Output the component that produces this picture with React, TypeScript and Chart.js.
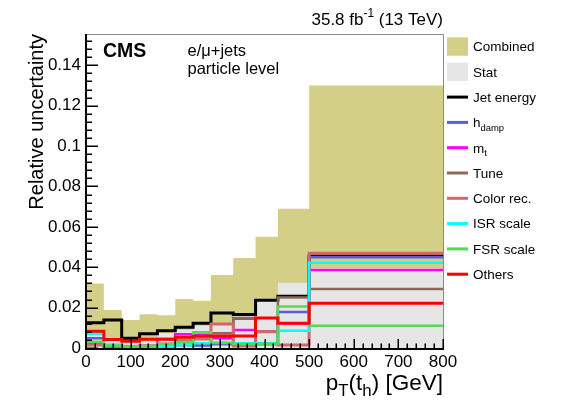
import React, { useEffect, useRef } from "react";
import { Chart, registerables } from "chart.js";
Chart.register(...registerables);

const FONT = '"Liberation Sans", Arial, Helvetica, sans-serif';

// Bin edges of pT(t_h) in GeV
const binEdges = [0, 40, 80, 120, 160, 200, 240, 280, 330, 380, 430, 500, 800];

// Relative uncertainties per bin
const combined = [0.032, 0.0188, 0.0139, 0.0167, 0.0162, 0.0243, 0.0234, 0.0361, 0.0446, 0.0551, 0.069, 0.13];
const stat = [0.0065, 0.0035, 0.003, 0.0035, 0.0075, 0.009, 0.011, 0.0115, 0.0158, 0.0234, 0.0323, 0.0395];
const jetEnergy = [0.0125, 0.0139, 0.0048, 0.0071, 0.0086, 0.0103, 0.0122, 0.0173, 0.0166, 0.0237, 0.0256, 0.0455];
const hdamp = [0.0048, 0.0015, 0.0005, 0.001, 0.001, 0.0015, 0.0012, 0.0018, 0.0145, 0.0018, 0.0178, 0.045];
const mt = [0.002, 0.001, 0.0003, 0.001, 0.0045, 0.0068, 0.0066, 0.0048, 0.0089, 0.0081, 0.0122, 0.0386];
const tune = [0.002, 0.0008, 0.0005, 0.0008, 0.001, 0.0015, 0.002, 0.0073, 0.0148, 0.0082, 0.025, 0.0292];
const colorRec = [0.0015, 0.001, 0.0008, 0.001, 0.002, 0.004, 0.0045, 0.0119, 0.001, 0.008, 0.0015, 0.0469];
const isrScale = [0.0069, 0.0015, 0.0005, 0.0008, 0.001, 0.0015, 0.0023, 0.0026, 0.0023, 0.0023, 0.0085, 0.0422];
const fsrScale = [0.0031, 0.0012, 0.0008, 0.001, 0.002, 0.003, 0.0078, 0.0025, 0.002, 0.0021, 0.0205, 0.011];
const others = [0.0083, 0.0042, 0.0033, 0.0043, 0.0043, 0.0053, 0.0058, 0.006, 0.006, 0.0148, 0.0123, 0.0221];

// Axis settings
const xMin = 0;
const xMax = 800;
const xMajorStep = 100;
const xMinorStep = 20;
const yMin = 0;
const yMax = 0.1555;
const yMajorStep = 0.02;
const yMinorStep = 0.004;

type Part = { t: string; sub?: boolean; sup?: boolean };

const legendItems: { key: string; parts: Part[]; color: string; kind: "box" | "line"; width: number }[] = [
  { key: "combined", parts: [{ t: "Combined" }], color: "#d4cf87", kind: "box", width: 0 },
  { key: "stat", parts: [{ t: "Stat" }], color: "#e6e6e6", kind: "box", width: 0 },
  { key: "jet", parts: [{ t: "Jet energy" }], color: "#000000", kind: "line", width: 3 },
  { key: "hdamp", parts: [{ t: "h" }, { t: "damp", sub: true }], color: "#5b5bdc", kind: "line", width: 2.5 },
  { key: "mt", parts: [{ t: "m" }, { t: "t", sub: true }], color: "#ff00ff", kind: "line", width: 2.5 },
  { key: "tune", parts: [{ t: "Tune" }], color: "#8b6a5c", kind: "line", width: 2.5 },
  { key: "colorrec", parts: [{ t: "Color rec." }], color: "#d0696a", kind: "line", width: 3 },
  { key: "isr", parts: [{ t: "ISR scale" }], color: "#00ffff", kind: "line", width: 2.5 },
  { key: "fsr", parts: [{ t: "FSR scale" }], color: "#55d855", kind: "line", width: 2.5 },
  { key: "others", parts: [{ t: "Others" }], color: "#ff0000", kind: "line", width: 3 },
];

const seriesByKey: Record<string, number[]> = {
  combined,
  stat,
  jet: jetEnergy,
  hdamp,
  mt,
  tune,
  colorrec: colorRec,
  isr: isrScale,
  fsr: fsrScale,
  others,
};

function toSteps(values: number[]) {
  return binEdges.map((e, i) => ({ x: e, y: values[Math.min(i, values.length - 1)] }));
}

function drawRich(
  ctx: CanvasRenderingContext2D,
  parts: Part[],
  x: number,
  y: number,
  size: number,
  align: "left" | "right",
  weight = "normal",
  smallScale = 0.7
) {
  const small = size * smallScale;
  const fontFor = (p: Part) => `${weight} ${p.sub || p.sup ? small : size}px ${FONT}`;
  let total = 0;
  for (const p of parts) {
    ctx.font = fontFor(p);
    total += ctx.measureText(p.t).width;
  }
  let cx = align === "right" ? x - total : x;
  ctx.textAlign = "left";
  for (const p of parts) {
    ctx.font = fontFor(p);
    const dy = p.sub ? size * 0.28 : p.sup ? -size * 0.42 : 0;
    ctx.fillText(p.t, cx, y + dy);
    cx += ctx.measureText(p.t).width;
  }
}

const framePlugin = {
  id: "frameTicks",
  afterDatasetsDraw(chart: any) {
    const { ctx, chartArea: a, scales } = chart;
    const xs = scales.x;
    const ys = scales.y;
    ctx.save();
    // top and right frame
    ctx.strokeStyle = "#8a8a8a";
    ctx.lineWidth = 1;
    ctx.beginPath();
    ctx.moveTo(a.left, a.top + 0.5);
    ctx.lineTo(a.right + 0.5, a.top + 0.5);
    ctx.lineTo(a.right + 0.5, a.bottom);
    ctx.stroke();

    ctx.strokeStyle = "#000";
    ctx.lineWidth = 1.5;
    ctx.beginPath();
    // y ticks (inward)
    for (let i = 0; ; i++) {
      const v = yMin + i * yMinorStep;
      if (v > yMax + 1e-9) break;
      const major = Math.abs(v / yMajorStep - Math.round(v / yMajorStep)) < 1e-6;
      const py = Math.round(ys.getPixelForValue(v)) + 0.25;
      ctx.moveTo(a.left, py);
      ctx.lineTo(a.left + (major ? 12 : 6), py);
    }
    // x ticks (inward)
    for (let i = 0; ; i++) {
      const v = xMin + i * xMinorStep;
      if (v > xMax + 1e-9) break;
      const major = v % xMajorStep === 0;
      const px = Math.round(xs.getPixelForValue(v)) + 0.25;
      ctx.moveTo(px, a.bottom);
      ctx.lineTo(px, a.bottom - (major ? 9 : 4.5));
    }
    ctx.stroke();

    // axis lines
    ctx.lineWidth = 2;
    ctx.beginPath();
    ctx.moveTo(a.left, a.top);
    ctx.lineTo(a.left, a.bottom + 1);
    ctx.lineTo(a.right + 1, a.bottom + 1);
    ctx.stroke();
    ctx.restore();
  },
  afterDraw(chart: any) {
    const { ctx, chartArea: a } = chart;
    ctx.save();
    ctx.fillStyle = "#000";
    ctx.textBaseline = "alphabetic";

    // CMS label and annotations
    drawRich(ctx, [{ t: "CMS" }], a.left + 17, 56.5, 19.5, "left", "bold");
    drawRich(ctx, [{ t: "e/μ+jets" }], 187.5, 55.5, 16.5, "left");
    drawRich(ctx, [{ t: "particle level" }], 187.5, 73.5, 16.5, "left");

    // luminosity label
    drawRich(
      ctx,
      [{ t: "35.8 fb" }, { t: "-1", sup: true }, { t: " (13 TeV)" }],
      a.right,
      24.5,
      17,
      "right"
    );

    // x-axis title
    drawRich(
      ctx,
      [{ t: "p" }, { t: "T", sub: true }, { t: "(t" }, { t: "h", sub: true }, { t: ") [GeV]" }],
      a.right,
      390,
      22.5,
      "right",
      "normal",
      0.75
    );

    // legend
    const lx = 447;
    const lw = 21;
    legendItems.forEach((it, i) => {
      const cy = 46.5 + i * 25.3;
      if (it.kind === "box") {
        ctx.fillStyle = it.color;
        ctx.fillRect(lx, cy - 9.2, lw, 18.4);
      } else {
        ctx.strokeStyle = it.color;
        ctx.lineWidth = 3;
        ctx.beginPath();
        ctx.moveTo(lx, cy);
        ctx.lineTo(lx + lw, cy);
        ctx.stroke();
      }
      ctx.fillStyle = "#000";
      drawRich(ctx, it.parts, lx + 26, cy + 4.8, 13.5, "left");
    });
    ctx.restore();
  },
};

export default function App() {
  const ref = useRef<HTMLCanvasElement | null>(null);

  useEffect(() => {
    if (!ref.current) return;
    const orderMap: Record<string, number> = {
      combined: 100,
      stat: 90,
      jet: 9,
      hdamp: 8,
      mt: 7,
      tune: 6,
      colorrec: 5,
      isr: 4,
      fsr: 3,
      others: 2,
    };
    const datasets = legendItems.map((it) => {
      const isFill = it.kind === "box";
      return {
        label: it.parts.map((p) => p.t).join(""),
        data: toSteps(seriesByKey[it.key]),
        stepped: true as const,
        borderColor: it.color,
        backgroundColor: it.color,
        borderWidth: isFill ? 0 : it.width,
        fill: isFill ? "origin" : false,
        pointRadius: 0,
        pointHoverRadius: 0,
        tension: 0,
        borderCapStyle: "butt" as const,
        borderJoinStyle: "miter" as const,
        order: orderMap[it.key],
        clip: 0,
      };
    });

    const chart = new Chart(ref.current, {
      type: "line",
      data: { datasets: datasets as any },
      options: {
        animation: false,
        responsive: false,
        events: [],
        layout: { padding: { left: 0, top: 34, right: 125, bottom: 0 } },
        plugins: {
          legend: { display: false },
          tooltip: { enabled: false },
          title: { display: false },
        },
        scales: {
          x: {
            type: "linear",
            min: xMin,
            max: xMax,
            grid: { display: false, drawTicks: false },
            border: { display: false },
            ticks: {
              stepSize: xMajorStep,
              includeBounds: false,
              maxRotation: 0,
              autoSkip: false,
              color: "#000",
              padding: 4,
              font: { family: FONT, size: 17 },
              callback: (v: any) => String(v),
            },
            afterFit: (s: any) => {
              s.height = 61;
            },
          },
          y: {
            type: "linear",
            min: yMin,
            max: yMax,
            grid: { display: false, drawTicks: false },
            border: { display: false },
            ticks: {
              stepSize: yMajorStep,
              includeBounds: false,
              autoSkip: false,
              color: "#000",
              padding: 5,
              font: { family: FONT, size: 17 },
              callback: (v: any) => String(parseFloat(Number(v).toFixed(3))),
            },
            title: {
              display: true,
              text: "Relative uncertainty",
              align: "end",
              color: "#000",
              font: { family: FONT, size: 20 },
              padding: { top: 25.5, bottom: 0 },
            },
            afterFit: (s: any) => {
              s.width = 86;
            },
          },
        },
      },
      plugins: [framePlugin],
    });
    return () => chart.destroy();
  }, []);

  return (
    <div style={{ position: "absolute", left: 0, top: 0, width: 568, height: 409, background: "#fff" }}>
      <canvas ref={ref} width={568} height={409} style={{ width: 568, height: 409, display: "block" }} />
    </div>
  );
}
